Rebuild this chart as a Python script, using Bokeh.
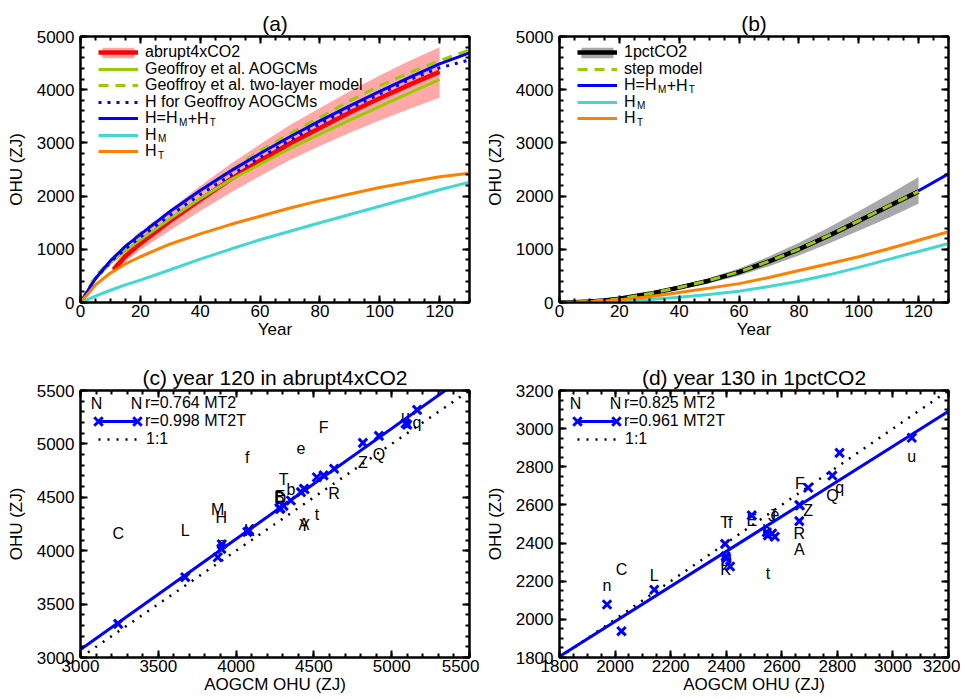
import numpy as np
from bokeh.plotting import figure
from bokeh.models import (Range1d, LinearAxis, SingleIntervalTicker, CustomJSTickFormatter,
                          Legend, LegendItem, Label)
from bokeh.layouts import column, row
from bokeh.embed import file_html
from bokeh.resources import INLINE
from bokeh.core.properties import value

FONT = "Liberation Sans"

# ---------------- panel (a): abrupt4xCO2 ----------------
years_a = [0, 5, 10, 15, 20, 30, 40, 50, 60, 70, 80, 90, 100, 110, 120, 130]
aogcm_years_a = [11, 15, 20, 30, 40, 50, 60, 70, 80, 90, 100, 110, 120]
aogcm_mean_a = [615, 870, 1110, 1535, 1930, 2310, 2665, 2990, 3280, 3570, 3840, 4095, 4335]
aogcm_high_a = [700, 980, 1265, 1750, 2190, 2600, 2975, 3335, 3655, 3970, 4265, 4545, 4800]
aogcm_low_a = [540, 770, 985, 1360, 1720, 2060, 2380, 2680, 2940, 3190, 3420, 3640, 3850]
geo_years = [0, 5, 10, 15, 20, 30, 40, 50, 60, 70, 80, 90, 100, 110, 120]
geo_aogcm = [0, 450, 740, 975, 1180, 1580, 1955, 2300, 2600, 2895, 3165, 3430, 3685, 3940, 4192]
geo_twolayer = [0, 500, 785, 1060, 1300, 1710, 2100, 2480, 2850, 3175, 3480, 3790, 4075, 4320, 4545, 4750]
h_geo = [0, 450, 760, 1010, 1230, 1640, 2030, 2385, 2725, 3050, 3360, 3650, 3920, 4190, 4410, 4560]
h_a = [0, 450, 785, 1055, 1280, 1715, 2105, 2465, 2800, 3115, 3415, 3695, 3970, 4230, 4485, 4693]
hm_a = [0, 120, 230, 330, 420, 615, 815, 1000, 1180, 1340, 1500, 1655, 1810, 1965, 2120, 2262]
ht_a = [0, 330, 555, 725, 860, 1100, 1290, 1465, 1620, 1775, 1915, 2040, 2160, 2265, 2365, 2431]

# ---------------- panel (b): 1pctCO2 ----------------
years_b = [0, 5, 10, 15, 20, 30, 40, 50, 60, 70, 80, 90, 100, 110, 120, 130]
aogcm_years_b = [0, 5, 10, 15, 20, 30, 40, 50, 60, 70, 80, 90, 100, 110, 120]
aogcm_mean_b = [0, 5, 20, 40, 69, 163, 280, 410, 571, 771, 1000, 1255, 1530, 1810, 2088]
aogcm_high_b = [0, 6, 23, 45, 78, 183, 315, 460, 640, 865, 1125, 1410, 1715, 2030, 2357]
aogcm_low_b = [0, 4, 17, 35, 61, 145, 248, 363, 505, 680, 885, 1110, 1350, 1595, 1856]
step_model_b = [0, 6, 22, 42, 72, 165, 283, 415, 575, 775, 1005, 1260, 1535, 1815, 2090]
h_b = [0, 7, 24, 45, 75, 170, 290, 420, 580, 780, 1010, 1265, 1540, 1820, 2100, 2420]
hm_b = [0, 2, 8, 15, 25, 55, 100, 150, 213, 300, 401, 520, 660, 810, 960, 1110]
ht_b = [0, 5, 15, 30, 50, 110, 190, 270, 355, 470, 600, 730, 860, 1010, 1170, 1330]

# ---------------- panel (c): year 120 in abrupt4xCO2 ----------------
models_c = ["C", "L", "M", "H", "p", "K", "f", "E", "B", "D", "T", "b", "e", "A", "Y",
            "t", "F", "R", "Z", "Q", "u", "a", "q"]
aogcm_c = [3242, 3673, 3882, 3905, 3908, 4085, 4072, 4282, 4278, 4285, 4305, 4352, 4417, 4436, 4440,
           4519, 4562, 4630, 4815, 4918, 5089, 5100, 5163]
mt2_c = [4164, 4189, 4386, 4308, 4064, 4189, 4870, 4510, 4495, 4488, 4664, 4570, 4963, 4245, 4235,
         4340, 5156, 4533, 4829, 4898, 5256, 5204, 5204]
mt2t_c = [3315, 3752, 3939, 4017, 4060, 4189, 4175, 4392, 4400, 4395, 4420, 4470, 4548, 4580, 4575,
          4688, 4705, 4767, 5010, 5075, 5191, 5180, 5319]
r_c = ["r=0.764 MT2", "r=0.998 MT2T"]

# ---------------- panel (d): year 130 in 1pctCO2 ----------------
models_d = ["n", "C", "L", "T", "f", "D", "K", "E", "J", "e", "b", "t", "F", "R", "A",
            "Z", "Q", "q", "u"]
aogcm_d = [1971, 2023, 2141, 2396, 2414, 2400, 2398, 2492, 2565, 2575, 2546, 2550, 2665, 2663, 2663,
           2695, 2782, 2808, 3068]
mt2_d = [2178, 2260, 2230, 2506, 2506, 2309, 2260, 2520, 2545, 2555, 2466, 2239, 2711, 2452, 2365,
         2571, 2649, 2693, 2854]
mt2t_d = [2078, 1938, 2155, 2396, 2277, 2320, 2330, 2545, 2450, 2433, 2457, 2440, 2597, 2515, 2600,
          2690, 2754, 2873, 2952]
r_d = ["r=0.825 MT2", "r=0.961 MT2T"]

RED, PINK = "#FF0000", "#FFA8A8"
GREEN, BLUE = "#99CC00", "#0000FF"
CYAN, ORANGE = "#40D8D0", "#FF7F00"
GRAY = "#A8A8A8"

FW = 389
LEFT = 80
ROWH = 26      # fixed legend row height (px)
LFS = 16       # legend font size (px)
STEP = 16.5    # legend row spacing (px)
FRAME_H = {}


def style_axis(ax, labels=True, is_y=False):
    ax.axis_line_width = 2
    ax.axis_line_color = "black"
    ax.major_tick_line_width = 2
    ax.minor_tick_line_width = 2
    ax.major_tick_line_color = "black"
    ax.minor_tick_line_color = "black"
    ax.major_tick_in = 7
    ax.major_tick_out = 0
    ax.minor_tick_in = 4
    ax.minor_tick_out = 0
    ax.major_label_text_font = FONT
    ax.major_label_text_font_size = "17px"
    ax.major_label_text_color = "black"
    ax.axis_label_text_font = FONT
    ax.axis_label_text_font_size = "17px"
    ax.axis_label_text_font_style = "normal"
    ax.axis_label_text_color = "black"
    ax.axis_label_standoff = 8 if is_y else 0
    if labels:
        ax.major_label_standoff = 6 if is_y else 2
    else:
        ax.formatter = CustomJSTickFormatter(code="return ''")
        ax.major_label_standoff = 0
        ax.major_label_text_font_size = "0px"


def make_fig(title, xr, yr, xt, yt, xlabel, top, fh, bottom, right):
    p = figure(width=LEFT + FW + right, height=top + fh + bottom,
               x_range=Range1d(*xr), y_range=Range1d(*yr),
               output_backend="svg", toolbar_location=None,
               min_border_left=LEFT, min_border_right=right,
               min_border_top=top, min_border_bottom=bottom)
    p.title.text = title
    p.title.align = "center"
    p.title.text_font = FONT
    p.title.text_font_size = "21px"
    p.title.text_font_style = "normal"
    p.title.text_color = "black"
    p.title.standoff = 4
    p.grid.visible = False
    p.outline_line_color = "black"
    p.outline_line_width = 2
    xa, ya = p.xaxis[0], p.yaxis[0]
    xa.ticker = SingleIntervalTicker(interval=xt[0], num_minor_ticks=xt[1])
    ya.ticker = SingleIntervalTicker(interval=yt[0], num_minor_ticks=yt[1])
    style_axis(xa)
    style_axis(ya, is_y=True)
    xa.axis_label = xlabel
    ya.axis_label = "OHU (ZJ)"
    ax_top = LinearAxis(ticker=SingleIntervalTicker(interval=xt[0], num_minor_ticks=xt[1]))
    ax_right = LinearAxis(ticker=SingleIntervalTicker(interval=yt[0], num_minor_ticks=yt[1]))
    style_axis(ax_top, labels=False)
    style_axis(ax_right, labels=False, is_y=True)
    p.add_layout(ax_top, "above")
    p.add_layout(ax_right, "right")
    FRAME_H[p.id] = fh
    return p


def legend_row(p, renderers, label, cy, x_off=18, gw=40, standoff=7):
    fh = FRAME_H[p.id]
    lg = Legend(items=[LegendItem(label=label, renderers=renderers)],
                location=(x_off, fh - cy - ROWH / 2), orientation="vertical",
                padding=0, margin=0, spacing=0, glyph_width=gw, glyph_height=ROWH,
                label_height=ROWH, label_width=0, label_standoff=standoff,
                label_text_font=FONT, label_text_font_size=f"{LFS}px",
                label_text_color="black", label_text_baseline="middle",
                border_line_alpha=0, background_fill_alpha=0)
    p.add_layout(lg)


def glyph_only(p, renderer, xc, cy, gw, gh):
    # legend sample without text, centred on (xc, cy) from the frame's top-left corner
    fh = FRAME_H[p.id]
    lg = Legend(items=[LegendItem(label="", renderers=[renderer])],
                location=(xc - gw / 2, fh - cy - gh / 2), padding=0, margin=0, spacing=0,
                glyph_width=gw, glyph_height=gh, label_height=0, label_width=0,
                label_standoff=0, label_text_font_size="1px",
                border_line_alpha=0, background_fill_alpha=0)
    p.add_layout(lg)


def screen_label(p, text, x, cy, size=f"{LFS}px", align="left"):
    p.add_layout(Label(x=x, y=FRAME_H[p.id] - cy, x_units="screen", y_units="screen", text=text,
                       text_font=FONT, text_font_size=size, text_baseline="middle",
                       text_align=align, text_color="black"))


def add_subscripts(p, kind, cy, x0=65):
    # advance widths of Liberation Sans at LFS px / 10px
    wH, wEq, wPlus = 0.722 * LFS, 0.584 * LFS, 0.584 * LFS
    wM = 0.833 * 10
    if kind == "sum":
        xm = x0 + 2 * wH + wEq + 1
        screen_label(p, "M", xm, cy + 3.5, size="10px")
        xp = xm + wM + 0.5
        screen_label(p, "+H", xp, cy)
        screen_label(p, "T", xp + wPlus + wH + 1, cy + 3.5, size="10px")
    else:
        screen_label(p, kind, x0 + wH + 1, cy + 3.5, size="10px")


def ly(i):
    return 16 + STEP * i


# ================= (a) =================
pa = make_fig("(a)", (0, 130), (0, 5000), (20, 4), (1000, 5), "Year", 36, 266, 42, 10)
r_band = pa.varea(x=aogcm_years_a, y1=aogcm_low_a, y2=aogcm_high_a, fill_color=PINK)
r_red = pa.line(aogcm_years_a, aogcm_mean_a, line_color=RED, line_width=4.5)
r_geo = pa.line(geo_years, geo_aogcm, line_color=GREEN, line_width=3)
r_two = pa.line(years_a, geo_twolayer, line_color=GREEN, line_width=3, line_dash="10 7")
r_hgeo = pa.line(years_a, h_geo, line_color=BLUE, line_width=3, line_dash="3 6")
r_h = pa.line(years_a, h_a, line_color=BLUE, line_width=3)
r_hm = pa.line(years_a, hm_a, line_color=CYAN, line_width=3)
r_ht = pa.line(years_a, ht_a, line_color=ORANGE, line_width=3)
glyph_only(pa, r_band, 38, ly(0), 40, 13)
rows_a = [([r_red], "abrupt4xCO2"), ([r_geo], "Geoffroy et al. AOGCMs"),
          ([r_two], "Geoffroy et al. two-layer model"), ([r_hgeo], "H for Geoffroy AOGCMs"),
          ([r_h], "H=H"), ([r_hm], "H"), ([r_ht], "H")]
for i, (rs, lab) in enumerate(rows_a):
    legend_row(pa, rs, lab, ly(i))
add_subscripts(pa, "sum", ly(4))
add_subscripts(pa, "M", ly(5))
add_subscripts(pa, "T", ly(6))

# ================= (b) =================
pb = make_fig("(b)", (0, 130), (0, 5000), (20, 4), (1000, 5), "Year", 36, 266, 42, 12)
b_band = pb.varea(x=aogcm_years_b, y1=aogcm_low_b, y2=aogcm_high_b, fill_color=GRAY)
b_h = pb.line(years_b, h_b, line_color=BLUE, line_width=3)
b_mean = pb.line(aogcm_years_b, aogcm_mean_b, line_color="black", line_width=4.5)
b_step = pb.line(aogcm_years_b, step_model_b, line_color=GREEN, line_width=3, line_dash="10 7")
b_hm = pb.line(years_b, hm_b, line_color=CYAN, line_width=3)
b_ht = pb.line(years_b, ht_b, line_color=ORANGE, line_width=3)
glyph_only(pb, b_band, 38, ly(0), 40, 13)
rows_b = [([b_mean], "1pctCO2"), ([b_step], "step model"), ([b_h], "H=H"),
          ([b_hm], "H"), ([b_ht], "H")]
for i, (rs, lab) in enumerate(rows_b):
    legend_row(pb, rs, lab, ly(i))
add_subscripts(pb, "sum", ly(2))
add_subscripts(pb, "M", ly(3))
add_subscripts(pb, "T", ly(4))


# ================= (c) / (d) =================
def scatter_panel(title, lo, hi, tick, minor, models, xs, mt2, mt2t, rlabels, right):
    p = make_fig(title, (lo, hi), (lo, hi), (tick, minor), (tick, minor), "AOGCM OHU (ZJ)",
                 46, 267, 41, right)
    letters = p.text(x=xs, y=mt2, text=models, text_align="center", text_baseline="middle",
                     text_font=value(FONT), text_font_size="16px", text_color="black")
    slope, icpt = np.polyfit(np.array(xs, float), np.array(mt2t, float), 1)
    r_one = p.line([lo, hi], [lo, hi], line_color="black", line_width=2.5, line_dash="2 7")
    r_fit = p.line([lo, hi], [icpt + slope * lo, icpt + slope * hi], line_color=BLUE, line_width=3)
    r_x = p.scatter(xs, mt2t, marker="x", size=12, line_color=BLUE, line_width=3)
    # legend
    screen_label(p, "N", 16, 13, size="16px", align="center")
    screen_label(p, "N", 56, 13, size="16px", align="center")
    legend_row(p, [letters], rlabels[0], 13)
    legend_row(p, [r_fit], rlabels[1], 31)
    for xc in (18, 57):
        glyph_only(p, r_x, xc, 31, 30, 30)
    legend_row(p, [r_one], "1:1", 49, standoff=8)
    return p


pc = scatter_panel("(c) year 120 in abrupt4xCO2", 3000, 5500, 500, 5, models_c, aogcm_c,
                   mt2_c, mt2t_c, r_c, 10)
pd_ = scatter_panel("(d) year 130 in 1pctCO2", 1800, 3200, 200, 4, models_d, aogcm_d,
                    mt2_d, mt2t_d, r_d, 12)

layout = column(row(pa, pb), row(pc, pd_))
open("out.html", "w").write(file_html(layout, INLINE))
